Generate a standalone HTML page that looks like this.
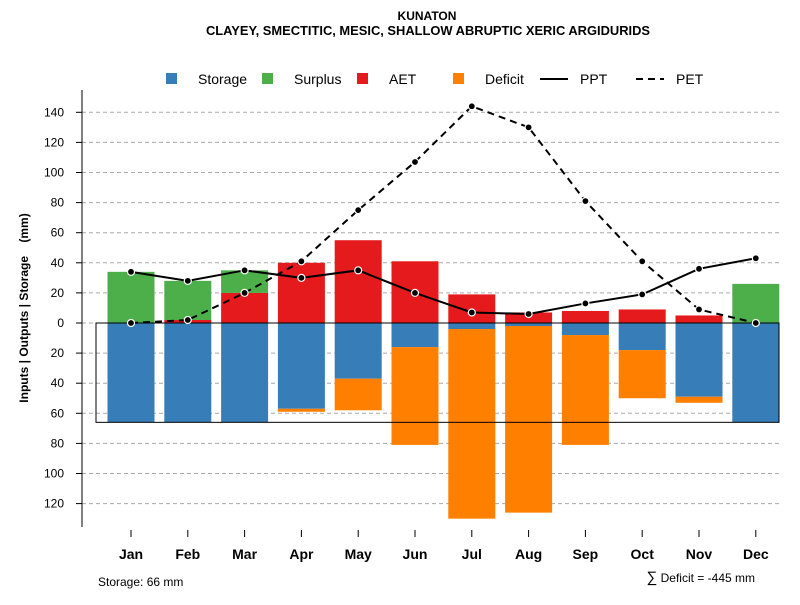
<!DOCTYPE html>
<html><head><meta charset="utf-8"><style>
body{margin:0;background:#fff;font-family:"Liberation Sans",sans-serif}
</style></head><body>
<svg id="c" width="800" height="600" xmlns="http://www.w3.org/2000/svg" font-family="Liberation Sans, sans-serif">
<text x="427" y="20" text-anchor="middle" font-size="12" font-weight="bold">KUNATON</text>
<text x="428" y="35" text-anchor="middle" font-size="12.9" font-weight="bold">CLAYEY, SMECTITIC, MESIC, SHALLOW ABRUPTIC XERIC ARGIDURIDS</text>
<g id="grid"></g><g id="bars"></g><g id="lines"></g><g id="axes"></g>
<g font-size="14">
<g><rect x="166" y="73" width="11" height="11" fill="#377eb8"/><text x="198" y="84">Storage</text></g>
<g><rect x="262" y="73" width="11" height="11" fill="#4daf4a"/><text x="294" y="84">Surplus</text></g>
<g><rect x="357" y="73" width="11" height="11" fill="#e41a1c"/><text x="389" y="84">AET</text></g>
<g><rect x="453" y="73" width="11" height="11" fill="#ff7f00"/><text x="485" y="84">Deficit</text></g>
<g><line x1="540" y1="79" x2="568" y2="79" stroke="#000" stroke-width="2"/><text x="580" y="84">PPT</text></g>
<g><line x1="636" y1="79" x2="664" y2="79" stroke="#000" stroke-width="2" stroke-dasharray="7,5"/><text x="676" y="84">PET</text></g>
</g>
<text transform="translate(28,308) rotate(-90)" text-anchor="middle" font-size="12" font-weight="bold" xml:space="preserve">Inputs | Outputs | Storage    (mm)</text>
<text x="98" y="586" font-size="12">Storage: 66 mm</text>
<text x="755" y="582" text-anchor="end" font-size="12"><tspan font-size="15">∑</tspan> Deficit = -445 mm</text>
</svg>
<script>
const months=["Jan","Feb","Mar","Apr","May","Jun","Jul","Aug","Sep","Oct","Nov","Dec"];
const storage=[66,66,66,57,37,16,4,2,8,18,49,66];
const deficit=[0,0,0,2,21,65,126,124,73,32,4,0];
const aet=[0,2,20,40,55,41,19,7,8,9,5,0];
const surplus=[34,26,15,0,0,0,0,0,0,0,0,26];
const ppt=[34,28,35,30,35,20,7,6,13,19,36,43];
const pet=[0,2,20,41,75,107,144,130,81,41,9,0];
const yTicks=[140,120,100,80,60,40,20,0,-20,-40,-60,-80,-100,-120];
const maxStorage=66;
const NS="http://www.w3.org/2000/svg";
const X=i=>131+i*56.8;
const Y=v=>323-v*1.505;
function mk(p,t,a){const e=document.createElementNS(NS,t);for(const k in a)e.setAttribute(k,a[k]);document.getElementById(p).appendChild(e);return e;}
yTicks.forEach(v=>{
 const g=mk("grid","line",{x1:82,x2:780,y1:Y(v),y2:Y(v),stroke:"#aaa","stroke-dasharray":"4,3"});
 
 
 const t=mk("axes","line",{x1:76,x2:82,y1:Y(v),y2:Y(v),stroke:"#000"});
 
 
 const l=mk("axes","text",{x:64,y:Y(v)+4,"text-anchor":"end","font-size":12});
 l.textContent=Math.abs(v);
 
 
});
const ax=mk("axes","line",{x1:82,x2:82,y1:90,y2:527,stroke:"#000"});


const bw=47;
months.forEach((m,i)=>{
 const x=X(i)-bw/2;
 const parts=[["storage",0,-storage[i],"#377eb8"],["deficit",-storage[i],-storage[i]-deficit[i],"#ff7f00"],["aet",0,aet[i],"#e41a1c"],["surplus",aet[i],aet[i]+surplus[i],"#4daf4a"]];
 parts.forEach(p=>{
  if(p[1]===p[2])return;
  const r=mk("bars","rect",{x:x,width:bw,y:Math.min(Y(p[1]),Y(p[2])),height:Math.abs(Y(p[1])-Y(p[2])),fill:p[3]});
  
  
 });
 const t=mk("axes","line",{x1:X(i),x2:X(i),y1:530,y2:537,stroke:"#000"});
 
 
 const l=mk("axes","text",{x:X(i),y:559,"text-anchor":"middle","font-size":14,"font-weight":"bold"});
 l.textContent=m;
 
 
});
const box=mk("bars","rect",{x:96,y:Y(0),width:683,height:Y(-maxStorage)-Y(0),fill:"none",stroke:"#000"});


[[ppt,"ppt",null],[pet,"pet","7,5"]].forEach(s=>{
 const a={points:s[0].map((v,i)=>X(i)+","+Y(v)).join(" "),fill:"none",stroke:"#000","stroke-width":2};
 if(s[2])a["stroke-dasharray"]=s[2];
 const pl=mk("lines","polyline",a);
 
 
 s[0].forEach((v,i)=>{
  const c=mk("lines","circle",{cx:X(i),cy:Y(v),r:3.5,fill:"#000",stroke:"#fff","stroke-width":1.2});
  
  
 });
});
</script>
</body></html>
